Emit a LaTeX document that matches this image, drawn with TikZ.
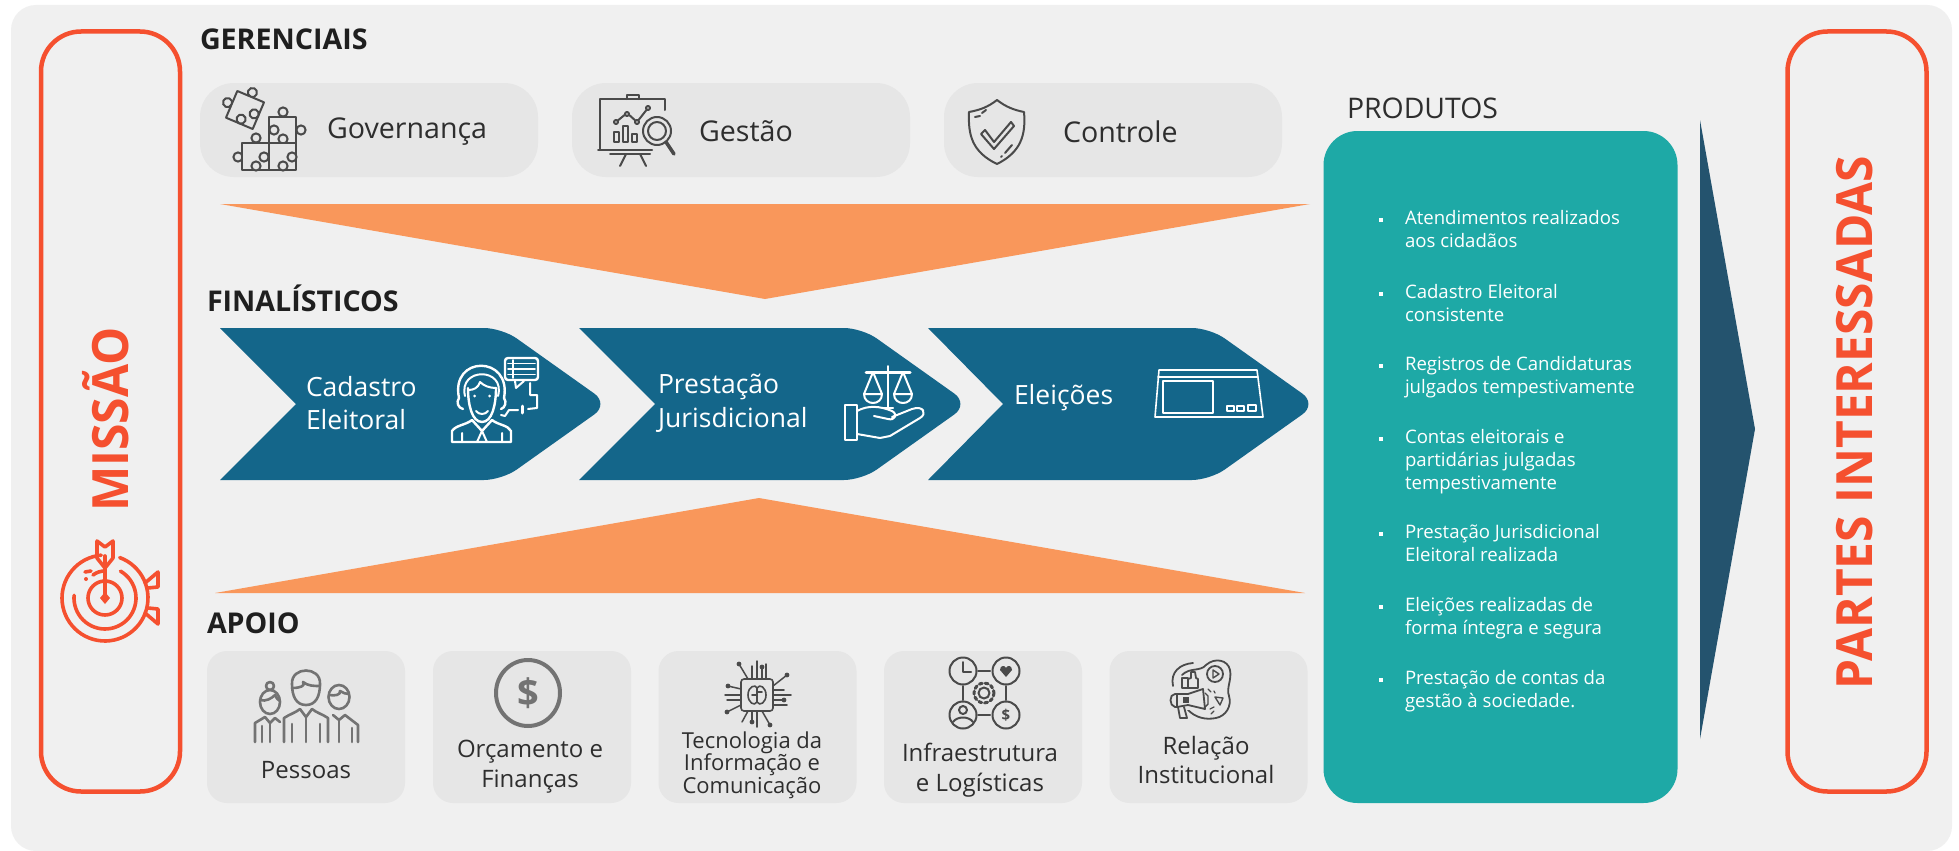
\documentclass[tikz,border=0pt]{standalone}
\usepackage{graphicx}
\usepackage{fontspec}
\setmainfont{Open Sans}
\definecolor{panelbg}{HTML}{F0F0F0}
\definecolor{boxbg}{HTML}{E6E6E6}
\definecolor{redor}{HTML}{F5502F}
\definecolor{orangeT}{HTML}{F9975B}
\definecolor{chev}{HTML}{14668A}
\definecolor{teal1}{HTML}{1EA9A6}
\definecolor{darkarrow}{HTML}{24536E}
\definecolor{ink}{HTML}{2E2E2E}
\definecolor{icong}{HTML}{4A4A4A}
\definecolor{iconp}{HTML}{737373}
\newcommand{\osz}[2]{\fontsize{#1}{#2}\selectfont}
\tikzset{
  txt/.style={inner sep=0pt,outer sep=0pt,text=ink},
  wtxt/.style={inner sep=0pt,outer sep=0pt,text=white},
  titlelab/.style={txt,anchor=base west,font=\osz{28.6}{32}\bfseries,text=black!88},
  toplab/.style={txt,font=\osz{28.6}{32}},
  botbox/.style={fill=boxbg,rounded corners=20pt,inner sep=0pt,minimum width=198pt,minimum height=152pt},
  topbox/.style={fill=boxbg,rounded corners=34pt,inner sep=0pt,minimum width=338pt,minimum height=94pt},
  item/.style={wtxt,anchor=north west,align=left,font=\osz{18.6}{23.4}},
  icn/.style={draw=icong,line width=2pt,line cap=round,line join=round},
  icw/.style={draw=white,line width=2pt,line cap=round,line join=round},
  icr/.style={draw=redor,line width=3.6pt,line cap=round,line join=round},
  icp/.style={draw=iconp,line width=2.6pt,line cap=round,line join=round}
}
\newcommand{\kn}[2]{\filldraw[icn,fill=boxbg] (#1,#2) circle (4.6);}
\newcommand{\pzr}[4]{\filldraw[icn,fill=boxbg] (#1,#2) rectangle (#3,#4);}
\begin{document}
\begin{tikzpicture}[x=1pt,y=-1pt]
\useasboundingbox (0,0) rectangle (1959,851);
\fill[white] (0,0) rectangle (1959,851);
\fill[panelbg,rounded corners=25pt] (11,5) rectangle (1952,851);

% side frames
\node (mframe) [draw=redor,line width=4.5pt,rounded corners=40pt,inner sep=0pt,minimum width=139pt,minimum height=760pt] at (110.5,411.5) {};
\node (pframe) [draw=redor,line width=4.5pt,rounded corners=40pt,inner sep=0pt,minimum width=139pt,minimum height=760pt] at (1857,411.5) {};
\node (mtxt) [inner sep=0pt,text=redor,rotate=90,font=\osz{50}{54}\bfseries] at (105.5,419.5) {\scalebox{0.96}[1]{MISSÃO}};
\node (ptxt) [inner sep=0pt,text=redor,rotate=90,font=\osz{50}{54}\bfseries] at (1854.5,422.5) {\scalebox{0.958}[1]{PARTES INTERESSADAS}};

% titles
\node (tger) [titlelab] at (200,49) {GERENCIAIS};
\node (tfin) [titlelab] at (207,311) {FINALÍSTICOS};
\node (tapo) [titlelab] at (207,633) {APOIO};
\node (tpro) [txt,anchor=base west,font=\osz{28.4}{32}] at (1347,118) {PRODUTOS};

% top boxes
\node (bgov) [topbox] at (369,130) {};
\node (bges) [topbox] at (741,130) {};
\node (bcon) [topbox] at (1113,130) {};
\node (lgov) [toplab,anchor=west] at (327,131.5) {Governança};
\node (lges) [toplab,anchor=west] at (699,131.5) {Gestão};
\node (lcon) [toplab,anchor=west] at (1063,131.5) {Controle};

% orange triangles
\fill[orangeT] (220,204) -- (1310,204) -- (765,299) -- cycle;
\fill[orangeT] (215,593) -- (1305,593) -- (759,498) -- cycle;

% chevrons
\fill[chev] (220,328) [rounded corners=18pt] -- (502,328) -- (609,404) -- (502,480) [sharp corners] -- (220,480) -- (296,404) -- cycle;
\fill[chev] (579,328) [rounded corners=18pt] -- (862,328) -- (969,404) -- (862,480) [sharp corners] -- (579,480) -- (655,404) -- cycle;
\fill[chev] (928,328) [rounded corners=18pt] -- (1210,328) -- (1317,404) -- (1210,480) [sharp corners] -- (928,480) -- (1003,404) -- cycle;
\node (lcad) [wtxt,anchor=west,align=left,font=\osz{26.5}{33}] at (306,403.5) {Cadastro\\Eleitoral};
\node (lpre) [wtxt,anchor=west,align=left,font=\osz{26.5}{33.5}] at (658,403.5) {Prestação\\Jurisdicional};
\node (lele) [wtxt,anchor=west,font=\osz{26.5}{31}] at (1014,397.5) {Eleições};

% teal panel
\node (prod) [fill=teal1,rounded corners=34pt,inner sep=0pt,minimum width=354pt,minimum height=672pt] at (1500.5,467) {};
\node (p1) [item] at (1405,210) {Atendimentos realizados\\aos cidadãos};
\node (p2) [item] at (1405,284) {Cadastro Eleitoral\\consistente};
\node (p3) [item] at (1405,356) {Registros de Candidaturas\\julgados tempestivamente};
\node (p4) [item] at (1405,429) {Contas eleitorais e\\partidárias julgadas\\tempestivamente};
\node (p5) [item] at (1405,524) {Prestação Jurisdicional\\Eleitoral realizada};
\node (p6) [item] at (1405,597) {Eleições realizadas de\\forma íntegra e segura};
\node (p7) [item] at (1405,670) {Prestação de contas da\\gestão à sociedade.};
\foreach \y in {220,294,366,439,534,607,680}
  \fill[white] (1378.5,\y-2) rectangle (1382.5,\y+2);

% dark arrow
\fill[darkarrow] (1700,120) -- (1755,429) -- (1700,739) -- cycle;

% bottom boxes
\node (b1) [botbox] at (306,727) {};
\node (b2) [botbox] at (532,727) {};
\node (b3) [botbox] at (757.5,727) {};
\node (b4) [botbox] at (983,727) {};
\node (b5) [botbox] at (1208.5,727) {};
\node (l1) [txt,font=\osz{24}{28}] at (306,770) {Pessoas};
\node (l2) [txt,align=center,font=\osz{24}{30}] at (530,767) {Orçamento e\\Finanças};
\node (l3) [txt,align=center,font=\osz{22}{22.4}] at (752,765) {Tecnologia da\\Informação e\\Comunicação};
\node (l4) [txt,align=center,font=\osz{24}{29.5}] at (980,770) {Infraestrutura\\e Logísticas};
\node (l5) [txt,align=center,font=\osz{24}{29.5}] at (1206,760) {Relação\\Institucional};

% --- icons ---
% puzzle
\begin{scope}[shift={(245,110)},rotate=-23]
\kn{0}{-19}\kn{-19}{0}
\filldraw[icn,fill=boxbg] (-14.5,-14.5) rectangle (14.5,14.5);
\kn{0}{10}\kn{10}{0}
\end{scope}
\kn{283}{112}\kn{301}{130}
\pzr{269}{117}{296}{143}
\kn{274}{130}\kn{283}{139}
\kn{256}{138}\kn{238}{157}
\pzr{242}{143}{269}{170}
\kn{264}{157}\kn{256}{166}
\pzr{269}{143}{296}{170}
\kn{292}{157}\kn{283}{166}
% chart board
\draw[icn] (665,110) -- (665,99) -- (600,99) -- (600,150);
\draw[icn] (627,99) -- (627,95) -- (639,95) -- (639,99);
\draw[icn] (598,150) -- (652,150) (610,154) -- (650,154);
\draw[icn] (626,154) -- (620,166) (640,154) -- (646,166);
\draw[icn] (614,142) rectangle (619,132) (623,142) rectangle (628,126) (632,142) rectangle (637,134);
\draw[icn] (616,122) -- (627,113) -- (637,122) -- (648,108);
\filldraw[icn,fill=boxbg] (616,122) circle (2) (627,114) circle (2) (637,122) circle (2) (648,108) circle (2);
\filldraw[icn,fill=boxbg] (657,131) circle (14);
\draw[icn] (657,131) circle (9);
\draw[icn,line width=3.5pt] (666,142) -- (674,154);
% shield
\draw[icn] (997,100) .. controls (988,107) and (980,110) .. (969,112) .. controls (968,135) and (972,152) .. (997,164) .. controls (1021,152) and (1026,135) .. (1024,112) .. controls (1014,110) and (1006,107) .. (997,100) -- cycle;
\draw[icn] (975,117) -- (980,116) (986,110) -- (982,113);
\draw[icn] (1005,153) -- (1012,145) (1001,157) -- (1002,156);
\draw[icn] (985,130) -- (994,142) -- (1011,122) -- (1014,126) -- (994,149) -- (981,134) -- cycle;
% agent
\draw[icw,line width=2.4pt] (468,388) .. controls (468,405) and (472,422) .. (482,422) .. controls (492,422) and (496,405) .. (496,388);
\draw[icw] (468,390) .. controls (474,390) and (478,388) .. (480,382) .. controls (484,386) and (490,388) .. (496,388);
\draw[icw] (476,411) .. controls (479,415) and (485,415) .. (488,411);
\fill[white] (474.5,396) circle (1.5) (489.5,396) circle (1.5);
\draw[icw,line width=2.4pt] (459,398) .. controls (450,355) and (512,355) .. (504,398);
\draw[icw] (465,396) .. controls (458,367) and (506,367) .. (498,396);
\draw[icw,line width=2.4pt] (459,398) .. controls (456,402) and (458,408) .. (463,409);
\draw[icw,line width=2.4pt] (504,398) .. controls (507,402) and (505,408) .. (501,409);
\draw[icw,line width=2.4pt] (452,442) -- (452,431) .. controls (456,425) and (466,425) .. (472,420) -- (482,431) -- (492,420) .. controls (498,425) and (508,425) .. (511,431) -- (511,442) -- cycle;
\draw[icw] (482,431) -- (477,442) (482,431) -- (487,442) (462,433) -- (462,442) (502,433) -- (502,442);
\draw[icw,line width=2.4pt,rounded corners=3pt] (505,358) rectangle (538,380);
\draw[icw,line width=1.6pt] (508,363.5) -- (535,363.5) (508,369) -- (535,369) (508,374.5) -- (535,374.5) (513,360) -- (513,378);
\draw[icw] (515,381) -- (516,388) -- (524,381);
\draw[icw] (530,383) -- (530,395) -- (537,395) -- (537,408) -- (528,409);
\draw[icw,line width=3pt] (522,406) -- (522,413);
\draw[icw] (518,410) -- (509,410) -- (505,416) -- (501,415);
% scales & hand
\draw[icw] (888,366) -- (888,408) (883,408) -- (893,408);
\draw[icw,line width=3pt] (866,372) -- (910,372);
\draw[icw] (873,372) -- (864,394) -- (882,394) -- cycle;
\draw[icw] (903,372) -- (894,394) -- (912,394) -- cycle;
\draw[icw] (864,394) .. controls (864,406) and (882,406) .. (882,394);
\draw[icw] (894,394) .. controls (894,406) and (912,406) .. (912,394);
\draw[icw] (845,405) rectangle (857,440);
\draw[icw] (857,411) .. controls (868,405) and (880,406) .. (892,411) .. controls (898,414) and (895,421) .. (888,419) -- (874,416);
\draw[icw] (892,417) -- (912,409) .. controls (924,405) and (927,414) .. (920,418) -- (890,436) -- (880,438) -- (857,434);
% voting machine
\draw[icw,line width=1.6pt] (1159,370) -- (1257,370) -- (1263,417) -- (1155,417) -- cycle;
\draw[icw,line width=1.6pt] (1158,377) -- (1258,377);
\draw[icw,line width=1.6pt] (1163,381) rectangle (1213,413);
\draw[icw,line width=1.2pt] (1227,406) rectangle (1234,411) (1237,406) rectangle (1244,411) (1248,405) rectangle (1256,411);
% people
\draw[icp] (292,684) .. controls (291,666) and (321,666) .. (320,684) .. controls (320,696) and (316,705) .. (306,705) .. controls (296,705) and (292,696) .. (292,684) -- cycle;
\draw[icp] (292,688) .. controls (300,688) and (306,686) .. (303,682) .. controls (308,686) and (314,686) .. (320,686);
\draw[icp] (284,742) -- (284,718) .. controls (290,714) and (295,713) .. (300,709) -- (306,717) -- (312,709) .. controls (317,713) and (322,714) .. (328,718) -- (328,742);
\draw[icp] (306,717) -- (306,742) (292,724) -- (292,742) (320,724) -- (320,742);
\draw[icp] (270,702) ellipse (10 and 12);
\draw[icp] (270,686) circle (4);
\draw[icp] (260,700) .. controls (266,702) and (272,698) .. (275,695) .. controls (276,698) and (278,700) .. (280,701);
\draw[icp] (255,742) -- (255,723) -- (265,717) -- (270,723) -- (275,718) -- (280,722);
\draw[icp] (262,726) -- (262,742) (270,723) -- (270,742);
\draw[icp] (339,697) ellipse (10.5 and 12);
\draw[icp] (329,695) .. controls (335,696) and (341,695) .. (340,691) .. controls (343,693) and (346,694) .. (349,694);
\draw[icp] (358,742) -- (358,725) -- (345,715) -- (339,720) -- (333,715);
\draw[icp] (339,720) -- (339,742) (352,728) -- (352,742);
% dollar
\draw[iconp,line width=4pt] (528,693) ellipse (32 and 33);
\node (dol) [inner sep=0pt,text=iconp,font=\osz{38}{40}\bfseries] at (528,693) {\$};
% chip
\draw[icn,line width=1.6pt,rounded corners=3pt] (741,679) rectangle (773,711);
\draw[icn,line width=1.6pt] (748,695) .. controls (748,686) and (756,684) .. (757,688) .. controls (760,683) and (766,688) .. (766,695) .. controls (766,702) and (760,707) .. (757,702) .. controls (754,707) and (748,702) .. (748,695) -- cycle (757,688) -- (757,702) (752,695) -- (757,695) (757,692) -- (762,692);
\foreach \a/\b/\c/\d in {757/679/757/661,752/679/752/666,762/679/762/668,748/679/739/664,766/679/766/664,773/686/787/675,773/695/791/695,773/690/784/690,773/700/784/700,773/705/787/705,741/695/725/695,741/689/728/686,741/700/727/700,741/705/727/712,757/711/757/727,752/711/752/722,762/711/770/725,748/711/742/722}
  \draw[icn,line width=1.5pt] (\a,\b) -- (\c,\d);
\foreach \a/\b in {762/667,739/664,787/675,784/700,727/712,752/722,770/725,728/686}
  \fill[icong] (\a,\b) circle (2.4);
% infra
\draw[icn] (963,671) circle (13.5) (1006,671) circle (13.5) (963,715) circle (13.5) (1006,715) circle (13.5);
\draw[icn] (978,671) -- (990,671) (978,715) -- (990,715) (963,686) -- (963,700) (1006,686) -- (1006,700);
\draw[icn] (963,662) -- (963,672) -- (971,672);
\fill[icong] (1006,677) -- (1000,670) .. controls (1000,665) and (1005,665) .. (1006,668) .. controls (1007,665) and (1012,665) .. (1012,670) -- cycle;
\draw[icn] (963,710) circle (4);
\draw[icn] (953,722) .. controls (957,716) and (969,716) .. (973,722);
\node (dol2) [inner sep=0pt,text=icong,font=\osz{15}{16}\bfseries] at (1006,715) {\$};
\draw[icn] (984,693) circle (5.5);
\draw[icn,line width=3pt,dash pattern=on 3pt off 3pt] (984,693) circle (10);
% megaphone & like
\draw[icn,line width=1.8pt] (1193,663) .. controls (1180,664) and (1170,672) .. (1173,686);
\draw[icn,line width=1.8pt] (1182,675) .. controls (1190,667) and (1200,672) .. (1206,665) .. controls (1215,657) and (1228,660) .. (1230,670) .. controls (1232,680) and (1226,688) .. (1229,696) .. controls (1232,706) and (1226,716) .. (1216,718) .. controls (1206,720) and (1196,718) .. (1188,710);
\draw[icn,line width=1.8pt] (1215,674) circle (8);
\draw[icn,line width=1.4pt] (1213,670) -- (1219,674) -- (1213,678) -- cycle;
\draw[icn,line width=1.8pt] (1182,678) rectangle (1188,688);
\draw[icn,line width=1.8pt] (1188,679) -- (1191,678) -- (1191,672) -- (1195,672) -- (1196,678) -- (1198,679) -- (1198,688) -- (1188,688);
\fill[boxbg] (1170,692) rectangle (1205,710);
\draw[icn,line width=1.8pt] (1177,694) -- (1175,694) .. controls (1169,694) and (1169,706) .. (1175,707) -- (1177,707);
\draw[icn,line width=1.8pt] (1177,694) -- (1188,694) -- (1203,689) -- (1205,709) -- (1188,705) -- (1177,707) -- cycle;
\draw[icn,line width=1.8pt] (1177,694) -- (1177,707);
\fill[icong] (1183,696.5) rectangle (1189,703);
\draw[icn,line width=1.8pt] (1178,707) -- (1180,718) -- (1187,718) -- (1184,707);
\draw[icn,line width=1.4pt] (1205,693) -- (1208,696) -- (1208,704) -- (1205,707);
\draw[icn,line width=1.3pt] (1208,689) -- (1211,692) (1214,691) -- (1215,693) (1210,709) -- (1214,707) (1211,714) -- (1214,711);
\draw[icn,line width=1.4pt] (1215,697) -- (1223,698) -- (1220,705) -- cycle;
% target
\draw[icr] plot[smooth,domain=-70:265,samples=60] ({105+43*cos(\x)},{598+43*sin(\x)});
\draw[icr] plot[smooth,domain=-60:185,samples=40] ({105+31*cos(\x)},{598+31*sin(\x)});
\draw[icr] (105,598) circle (17);
\draw[icr] (85,572) -- (91,571);
\fill[redor] (86,579) circle (2);
\fill[redor] (105,604) -- (100,598) -- (105,592) -- (110,598) -- cycle;
\draw[icr] (105,598) -- (105,556);
\draw[icr] (93,575) .. controls (97,572) and (101,571) .. (105,571);
\draw[icr] (97,541) -- (97,558) -- (105,568) -- (113,558) -- (113,541) -- (105,547) -- cycle;
\draw[icr] (145,583) -- (158,572) -- (158,587) -- (148,588);
\draw[icr] (145,613) -- (158,624) -- (158,609) -- (148,608);
\end{tikzpicture}
\end{document}
